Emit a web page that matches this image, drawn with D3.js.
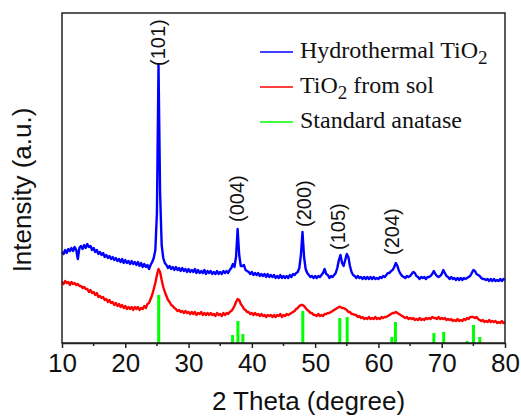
<!DOCTYPE html>
<html>
<head>
<meta charset="utf-8">
<script src="https://cdn.jsdelivr.net/npm/d3@7"></script>
<style>
  body { margin: 0; background: #fff; }
  svg { display: block; }
</style>
</head>
<body>
<svg id="chart" width="521" height="416"></svg>
<script>
"use strict";

// scan grid: 10 to 80 degrees, 0.25 degree step
var twoTheta = d3.range(10, 80.001, 0.25);

// hydrothermal TiO2 intensity (a.u.), one row per degree
var hydroValues = [
  91, 89, 93, 90,   94, 92, 95, 92,   96, 93, 84, 95,   97, 94, 98, 95,
  99, 96, 97, 93,   95, 91, 93, 89,   91, 88, 90, 86,   88, 85, 87, 84,
  86, 83, 85, 82,   84, 81, 84, 80,   83, 80, 82, 79,   82, 79, 81, 78,
  81, 77, 80, 76,   79, 76, 78, 74,   78, 81, 85, 93,   130, 278, 150, 98,
  85, 80, 78, 75,   77, 74, 76, 73,   76, 73, 75, 72,   75, 72, 74, 71,
  74, 71, 73, 71,   74, 70, 73, 70,   72, 70, 73, 69,   72, 70, 72, 69,
  71, 69, 72, 69,   71, 69, 72, 70,   72, 70, 73, 75,   79, 76, 86, 114,
  88, 77, 77, 78,   73, 72, 71, 69,   71, 68, 70, 68,   70, 67, 69, 67,
  69, 66, 69, 66,   68, 66, 68, 65,   67, 65, 68, 65,   67, 65, 67, 65,
  68, 66, 69, 68,   70, 71, 75, 88,   111, 86, 74, 70,  68, 66, 67, 65,
  67, 65, 67, 66,   68, 70, 74, 69,   68, 65, 67, 66,   68, 70, 75, 83,
  88, 80, 77, 83,   89, 86, 77, 71,   68, 67, 65, 67,   65, 66, 64, 66,
  64, 66, 64, 66,   64, 66, 64, 65,   64, 66, 65, 67,   66, 68, 70, 70,
  72, 73, 76, 80,   77, 72, 69, 67,   66, 65, 67, 66,   67, 69, 71, 70,
  67, 66, 64, 66,   65, 66, 64, 66,   66, 67, 69, 72,   69, 67, 66, 67,
  69, 73, 70, 67,   66, 64, 66, 64,   65, 63, 65, 63,   65, 63, 65, 64,
  65, 66, 67, 70,   73, 72, 69, 68,   67, 65, 64, 64,   63, 64, 62, 64,
  62, 64, 62, 63,   62, 64, 62, 64,   63
];

// TiO2 from sol intensity (a.u.)
var solValues = [
  61, 59, 62, 60,   61, 58, 61, 59,   60, 58, 59, 57,   57, 55, 56, 54,
  54, 51, 53, 50,   51, 48, 50, 46,   47, 45, 46, 43,   44, 41, 43, 40,
  41, 38, 40, 37,   39, 36, 38, 35,   37, 34, 36, 34,   36, 33, 36, 34,
  36, 33, 35, 34,   37, 35, 39, 40,   44, 48, 54, 60,   68, 74, 71, 63,
  56, 51, 47, 43,   41, 38, 37, 35,   34, 32, 33, 31,   32, 30, 32, 30,
  31, 29, 31, 29,   31, 28, 30, 29,   31, 28, 30, 28,   30, 28, 30, 28,
  29, 27, 30, 28,   29, 27, 30, 28,   30, 29, 31, 32,   34, 37, 41, 44,
  43, 39, 37, 34,   33, 31, 31, 29,   30, 28, 30, 28,   29, 27, 29, 27,
  28, 26, 28, 27,   28, 26, 28, 26,   28, 27, 29, 26,   28, 27, 29, 28,
  29, 30, 31, 32,   34, 35, 37, 38,   38, 37, 35, 33,   32, 30, 30, 28,
  28, 27, 29, 27,   28, 27, 29, 29,   30, 30, 31, 32,   33, 34, 35, 36,
  36, 35, 35, 34,   33, 31, 31, 29,   29, 28, 28, 26,   27, 25, 26, 24,
  25, 24, 26, 24,   25, 24, 26, 24,   25, 24, 26, 25,   26, 26, 27, 28,
  29, 30, 30, 31,   30, 29, 28, 27,   26, 25, 26, 24,   25, 24, 25, 23,
  24, 23, 25, 23,   24, 23, 25, 24,   25, 24, 26, 25,   25, 24, 26, 24,
  25, 24, 25, 23,   24, 23, 24, 22,   23, 22, 24, 22,   23, 22, 24, 23,
  25, 24, 26, 26,   26, 25, 26, 24,   23, 22, 23, 21,   22, 21, 23, 21,
  22, 21, 22, 20,   21, 20, 22, 20,   21
];

// standard anatase reference lines
var stdTheta  = [25.28, 36.95, 37.80, 38.58, 48.05, 53.89, 55.06, 62.12, 62.69, 68.76, 70.31, 74.03, 75.03, 76.02];
var stdHeight = [48, 8, 22, 9, 32, 25, 26, 6, 21, 10, 11, 2, 18, 6];

// peak labels
var peakNames = ["(101)", "(004)", "(200)", "(105)", "(204)"];
var peakTheta = [25.2, 37.6, 48.2, 53.6, 62.1];
var peakLevel = [277, 121, 116, 93, 88];

var xTicks = [10, 20, 30, 40, 50, 60, 70, 80];
var xMinor = [15, 25, 35, 45, 55, 65, 75];

var legendNames  = ["Hydrothermal TiO", "TiO", "Standard anatase"];
var legendColors = ["#0000ff", "#ff0000", "#00ff00"];

var svg = d3.select("#chart");
var plot = { left: 62, right: 505, top: 13, bottom: 343 };

var x = d3.scaleLinear().domain([10, 80]).range([plot.left, plot.right]);
var y = d3.scaleLinear().domain([0, 330]).range([plot.bottom, plot.top]);

var sans = "'Liberation Sans', Arial, sans-serif";
var serif = "'Liberation Serif', 'Times New Roman', serif";

// reference bars
svg.append("g").selectAll("line")
    .data(stdTheta)
    .enter()
    .append("line")
    .attr("x1", function(d) { return x(d); })
    .attr("x2", function(d) { return x(d); })
    .attr("y1", y(0))
    .attr("y2", function(d, i) { return y(stdHeight[i]); })
    .attr("stroke", "#00ff00")
    .attr("stroke-width", 3);

var line = d3.line()
    .x(function(d, i) { return x(twoTheta[i]); })
    .y(function(d) { return y(d); });

svg.append("path")
    .datum(solValues)
    .attr("d", line)
    .attr("fill", "none")
    .attr("stroke", "#ff0000")
    .attr("stroke-width", 2.4)
    .attr("stroke-linejoin", "round");

svg.append("path")
    .datum(hydroValues)
    .attr("d", line)
    .attr("fill", "none")
    .attr("stroke", "#0000ff")
    .attr("stroke-width", 2.4)
    .attr("stroke-linejoin", "round");

// frame
svg.append("rect")
    .attr("x", plot.left).attr("y", plot.top)
    .attr("width", plot.right - plot.left).attr("height", plot.bottom - plot.top)
    .attr("fill", "none")
    .attr("stroke", "#222")
    .attr("stroke-width", 1.5);

// x axis
var xAxis = svg.append("g")
    .attr("transform", "translate(0," + plot.bottom + ")")
    .call(d3.axisBottom(x).tickValues(xTicks).tickSize(5).tickSizeOuter(0).tickPadding(6));
xAxis.select(".domain").attr("stroke", "#222").attr("stroke-width", 1.5);
xAxis.selectAll(".tick line").attr("stroke", "#222").attr("stroke-width", 1.5);
xAxis.selectAll(".tick text")
    .attr("font-family", sans)
    .attr("font-size", 26)
    .attr("fill", "#111");

svg.append("g").selectAll("line")
    .data(xMinor)
    .enter()
    .append("line")
    .attr("x1", function(d) { return x(d); })
    .attr("x2", function(d) { return x(d); })
    .attr("y1", plot.bottom)
    .attr("y2", plot.bottom + 3)
    .attr("stroke", "#222")
    .attr("stroke-width", 1.5);

// axis titles
svg.append("text")
    .attr("x", (plot.left + plot.right) / 2 + 25)
    .attr("y", 410)
    .attr("text-anchor", "middle")
    .attr("font-family", sans)
    .attr("font-size", 26)
    .attr("fill", "#111")
    .text("2 Theta (degree)");

svg.append("text")
    .attr("transform", "translate(31,190) rotate(-90)")
    .attr("text-anchor", "middle")
    .attr("font-family", sans)
    .attr("font-size", 26)
    .attr("fill", "#111")
    .text("Intensity (a.u.)");

// peak labels
svg.append("g").selectAll("text")
    .data(peakNames)
    .enter()
    .append("text")
    .attr("transform", function(d, i) {
        return "translate(" + x(peakTheta[i]) + "," + y(peakLevel[i]) + ") rotate(-90)";
    })
    .attr("dy", "0.35em")
    .attr("font-family", sans)
    .attr("font-size", 20)
    .attr("fill", "#111")
    .text(function(d) { return d; });

// legend
var legend = svg.append("g");
legendNames.forEach(function(name, i) {
    var ly = 52 + i * 35;
    legend.append("line")
        .attr("x1", 260).attr("x2", 293)
        .attr("y1", ly).attr("y2", ly)
        .attr("stroke", legendColors[i])
        .attr("stroke-width", 1.5);
    var t = legend.append("text")
        .attr("x", 300)
        .attr("y", ly + 6)
        .attr("font-family", serif)
        .attr("font-size", 24)
        .attr("fill", "#111");
    t.append("tspan").text(name);
    if (i < 2) {
        t.append("tspan").attr("font-size", 19).attr("dy", 6).text("2");
    }
    if (i == 1) {
        t.append("tspan").attr("dy", -6).text(" from sol");
    }
});
</script>
</body>
</html>
